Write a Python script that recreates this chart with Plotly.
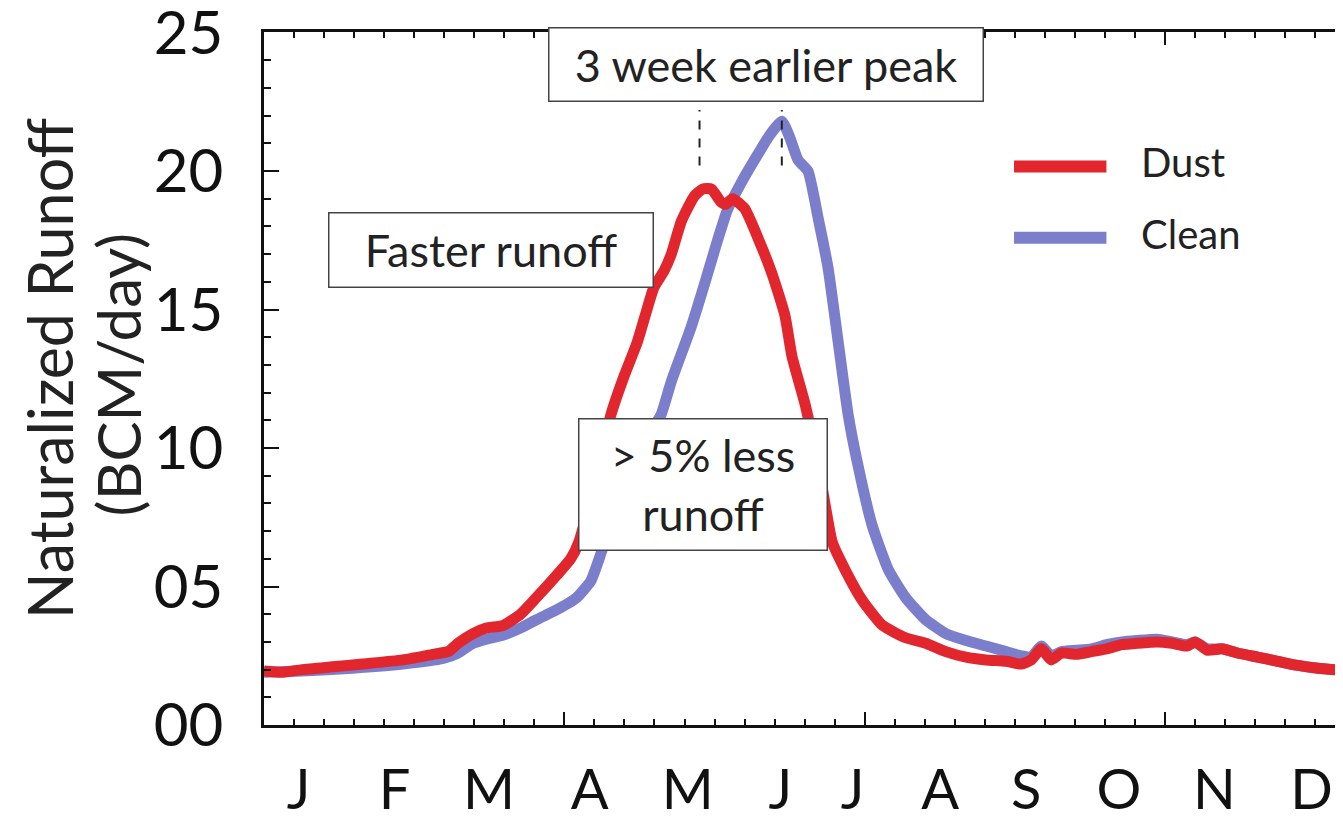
import plotly.graph_objects as go

# ---------------- data (day of year, runoff BCM/day) ----------------
dust_day = [0, 6.0, 12.7, 22.8, 32.8, 46.2, 56.2, 61.3, 64.6, 69.6, 74.0, 79.7, 85.4, 90.7,
            97.4, 102.1, 104.8, 109.8, 115.5, 119.9, 124.2, 127.5, 129.8, 133.2, 135.6, 139.0,
            143.3, 146.0, 149.0, 152.0, 153.7, 156.0, 160.0, 164.4, 169.1, 173.4, 175.8, 180.1,
            183.5, 186.1, 189.2, 193.5, 199.2, 205.9, 213.6, 220.3, 227.0, 233.7, 240.4, 247.1,
            252.1, 255.4, 258.8, 262.1, 265.5, 270.5, 275.5, 280.5, 285.6, 290.6, 297.3, 302.3,
            307.3, 310.0, 314.0, 319.0, 324.1, 330.8, 337.5, 344.2, 350.9, 361.9]
dust_val = [1.95, 1.9, 2.0, 2.1, 2.2, 2.35, 2.55, 2.65, 2.95, 3.3, 3.5, 3.6, 4.0, 4.6,
            5.4, 6.0, 6.6, 8.6, 11.2, 12.6, 13.8, 15.0, 15.8, 16.4, 17.0, 18.2,
            19.1, 19.35, 19.35, 18.9, 18.8, 19.0, 18.65, 17.6, 16.3, 14.8, 13.3, 11.6,
            9.9, 8.4, 6.6, 5.6, 4.5, 3.6, 3.15, 2.95, 2.65, 2.45, 2.35, 2.3,
            2.2, 2.35, 2.75, 2.35, 2.6, 2.55, 2.65, 2.75, 2.9, 2.95, 3.0, 2.95,
            2.85, 3.0, 2.7, 2.75, 2.6, 2.45, 2.3, 2.15, 2.05, 1.95]

clean_day = [0, 12.7, 29.5, 46.2, 59.6, 64.6, 69.6, 74.0, 79.7, 85.4, 90.7, 96.4, 101.4,
             104.1, 108.8, 112.2, 116.5, 122.5, 128.2, 132.2, 135.6, 142.3, 146.6, 151.0,
             154.3, 159.0, 164.4, 168.4, 172.4, 175.1, 177.8, 181.1, 184.5, 187.8, 191.2,
             194.5, 197.9, 202.5, 207.9, 213.6, 220.3, 227.0, 233.7, 240.4, 247.1, 252.1,
             255.4, 258.8, 262.1, 265.5, 270.5, 275.5, 280.5, 285.6, 290.6, 297.3, 302.3,
             307.3, 310.0, 314.0, 319.0, 324.1, 330.8, 337.5, 344.2, 350.9, 361.9]
clean_val = [1.9, 1.95, 2.05, 2.2, 2.4, 2.6, 2.95, 3.1, 3.25, 3.5, 3.8, 4.1, 4.4,
             4.6, 5.2, 6.2, 7.6, 9.2, 10.5, 11.2, 12.4, 14.4, 15.9, 17.5,
             18.6, 19.6, 20.6, 21.3, 21.8, 21.2, 20.4, 20.0, 18.3, 16.5, 13.8,
             11.2, 9.3, 7.2, 5.6, 4.6, 3.8, 3.3, 3.05, 2.85, 2.65, 2.5,
             2.45, 2.85, 2.5, 2.65, 2.7, 2.75, 2.9, 3.0, 3.05, 3.1, 3.0,
             2.9, 3.0, 2.75, 2.75, 2.6, 2.45, 2.3, 2.15, 2.05, 1.95]

month_labels = ["J", "F", "M", "A", "M", "J", "J", "A", "S", "O", "N", "D"]
month_pos = [11.5, 43.5, 74.9, 108.4, 141.1, 171.9, 196.0, 225.1, 253.8, 284.6, 316.4, 348.8]

y_tickvals = [0, 5, 10, 15, 20, 25]
y_ticktext = ["00", "05", "10", "15", "20", "25"]

series_names = ["Dust", "Clean"]
RED = "#E2262D"
BLUE = "#7B7FCB"
FONT = "Lato"
XMAX = 361.9
YMAX = 25.02

fig = go.Figure()
fig.add_trace(go.Scatter(x=clean_day, y=clean_val, mode="lines", name=series_names[1],
                         line=dict(color=BLUE, width=11, shape="spline", smoothing=0.5),
                         showlegend=False))
fig.add_trace(go.Scatter(x=dust_day, y=dust_val, mode="lines", name=series_names[0],
                         line=dict(color=RED, width=11, shape="spline", smoothing=0.5),
                         showlegend=False))

# peak markers (dashed) derived from data
dust_peak = dust_day[dust_val.index(max(dust_val))]
clean_peak = clean_day[clean_val.index(max(clean_val))]
for pk in (dust_peak - 1.0, clean_peak):
    fig.add_shape(type="line", xref="x", yref="y", x0=pk, x1=pk, y0=20.2, y1=22.2,
                  line=dict(color="#222", width=2, dash="dash"))

# custom legend
leg = [(series_names[0], RED, 0.806), (series_names[1], BLUE, 0.703)]
for name, col, yy in leg:
    fig.add_shape(type="line", xref="paper", yref="paper", x0=0.690, x1=0.775, y0=yy, y1=yy,
                  line=dict(color=col, width=12))
    fig.add_annotation(xref="paper", yref="paper", x=0.805, y=yy + 0.006, text=name,
                       showarrow=False, xanchor="left", yanchor="middle",
                       font=dict(family=FONT, size=40, color="#222"))

# text boxes
boxes = [
    ("3 week earlier peak", 167.2, 23.85, 433, 72),
    ("Faster runoff", 75.5, 17.16, 323, 73),
    ("&gt; 5% less<br>runoff", 146.1, 8.68, 247, 130),
]
for txt, bx, by, w, h in boxes:
    fig.add_annotation(x=bx, y=by, xref="x", yref="y", text=txt, showarrow=False,
                       width=w, height=h, align="center", valign="middle",
                       bgcolor="white", bordercolor="#444", borderwidth=1.5, borderpad=0,
                       font=dict(family=FONT, size=45, color="#222"))

# y-axis title (two lines)
fig.add_annotation(xref="paper", yref="paper", x=-0.198, y=0.515, text="Naturalized Runoff",
                   textangle=-90, showarrow=False, xanchor="center", yanchor="middle",
                   font=dict(family=FONT, size=61, color="#222"))
fig.add_annotation(xref="paper", yref="paper", x=-0.134, y=0.505, text="(BCM/day)",
                   textangle=-90, showarrow=False, xanchor="center", yanchor="middle",
                   font=dict(family=FONT, size=60, color="#222"))

fig.update_layout(
    width=1343, height=823,
    margin=dict(l=256, r=0, t=24, b=106, autoexpand=False),
    paper_bgcolor="white", plot_bgcolor="white",
    showlegend=False,
    xaxis=dict(range=[0, XMAX], tickmode="array", tickvals=month_pos, ticktext=month_labels,
               ticks="outside", ticklen=16, tickcolor="rgba(0,0,0,0)", automargin=False,
               showline=False, showgrid=False, zeroline=False, ticklabeloverflow="allow",
               tickfont=dict(family=FONT, size=56, color="#111")),
    xaxis2=dict(range=[0, XMAX], overlaying="x", side="bottom", anchor="y", automargin=False,
                tick0=0, dtick=100, ticks="inside", ticklen=13, tickwidth=2, tickcolor="#111",
                minor=dict(dtick=10, tick0=0, ticks="inside", ticklen=6, tickwidth=1.5, tickcolor="#111"),
                showticklabels=False, showline=True, linecolor="#111", linewidth=2.5,
                mirror="ticks", showgrid=False, zeroline=False),
    yaxis=dict(range=[0, YMAX], tickmode="array", tickvals=y_tickvals, ticktext=y_ticktext,
               ticks="inside", ticklen=15, tickwidth=2, tickcolor="#111", automargin=False,
               minor=dict(dtick=1, tick0=0, ticks="inside", ticklen=7, tickwidth=1.5, tickcolor="#111"),
               showline=True, linecolor="#111", linewidth=2.5, mirror="ticks",
               showgrid=False, zeroline=False, ticklabelstandoff=26, ticklabeloverflow="allow",
               tickfont=dict(family=FONT, size=60, color="#111")),
)
# a dummy trace on xaxis2 so it is drawn
fig.add_trace(go.Scatter(x=[0, XMAX], y=[None, None], xaxis="x2", yaxis="y",
                         mode="lines", showlegend=False, hoverinfo="skip"))

fig.write_html("out.html")
